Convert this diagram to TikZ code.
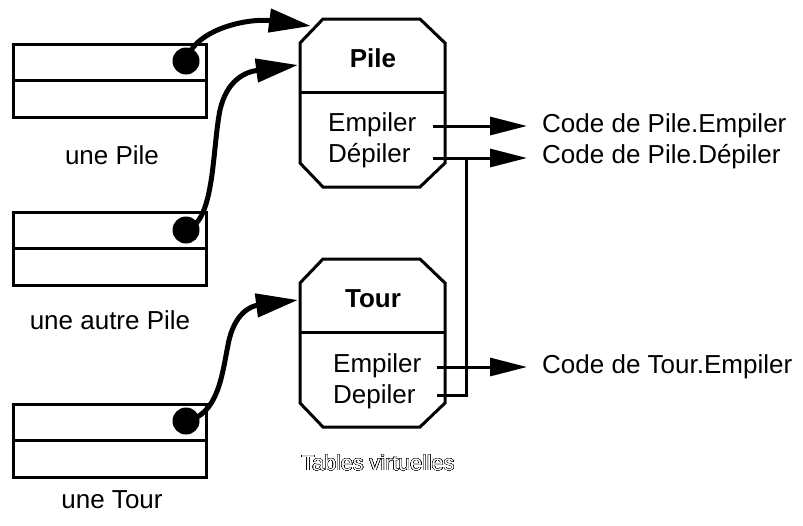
\documentclass[tikz,border=0pt]{standalone}
\usepackage{fontspec}
\setmainfont{Liberation Sans}
\usepackage{contour}
\contourlength{0.4pt}
\contournumber{32}
\usetikzlibrary{arrows.meta}
\begin{document}
\begin{tikzpicture}[x=1pt,y=-1pt,
  txt/.style={font=\fontsize{26}{31}\selectfont, inner sep=0pt},
  btxt/.style={font=\fontsize{26}{31}\selectfont\bfseries, inner sep=0pt},
  objbox/.style={draw, line width=3pt, minimum width=193pt, minimum height=73pt, inner sep=0pt},
  dotn/.style={circle, fill=black, minimum size=27pt, inner sep=0pt},
  curvearrow/.style={line width=5pt, -{Triangle[length=42pt,width=23pt]}},
  wire/.style={line width=3pt},
  wirearrow/.style={line width=3pt, -{Triangle[length=37pt,width=18pt]}},
  oct/.style={line width=3pt, line join=miter}]
\useasboundingbox (0,0) rectangle (803,525);

% object boxes
\node[objbox] (o1) at (109.5,80.5) {};
\draw[line width=3pt] (o1.west) -- (o1.east);
\node[objbox] (o2) at (109.5,248.5) {};
\draw[line width=3pt] (o2.west) -- (o2.east);
\node[objbox] (o3) at (109.5,440.5) {};
\draw[line width=3pt] (o3.west) -- (o3.east);

\node[txt] (l1) at (112,155) {une Pile};
\node[txt] (l2) at (110,320) {une autre Pile};
\node[txt] (l3) at (112,500) {une Tour};

% Pile octagon
\draw[oct] (323,19) -- (420,19) -- (445,43) -- (445,163) -- (420,187) -- (323,187) -- (300,163) -- (300,43) -- cycle;
\draw[oct] (300,92) -- (445,92);
\node[btxt, anchor=base] (pt) at (373,67) {Pile};
\node[txt, anchor=base west] (pe) at (328,131) {Empiler};
\node[txt, anchor=base west] (pd) at (328,162) {Dépiler};

% Tour octagon
\draw[oct] (323,259) -- (420,259) -- (445,283) -- (445,403) -- (420,427) -- (323,427) -- (300,403) -- (300,283) -- cycle;
\draw[oct] (300,332) -- (445,332);
\node[btxt, anchor=base] (tt) at (373,307) {Tour};
\node[txt, anchor=base west] (te) at (333,372) {Empiler};
\node[txt, anchor=base west] (td) at (333,403) {Depiler};

\node[font=\fontsize{21.5}{25}\selectfont, inner sep=0pt] (tv) at (378,463) {\contour{black}{\textcolor{white}{Tables virtuelles}}};

% code targets
\node[txt, anchor=base west] (cpe) at (542,132) {Code de Pile.Empiler};
\node[txt, anchor=base west] (cpd) at (542,163) {Code de Pile.Dépiler};
\node[txt, anchor=base west] (cte) at (542,373) {Code de Tour.Empiler};

% wires
\coordinate (pes) at (433,126);
\coordinate (pee) at (527,126);
\coordinate (pds) at (433,158);
\coordinate (pde) at (527,158);
\coordinate (pdj) at (466,158);
\coordinate (tes) at (437,367);
\coordinate (tee) at (527,367);
\coordinate (tds) at (437,395);
\coordinate (tdj) at (466,395);
\draw[wirearrow] (pes) -- (pee);
\draw[wirearrow] (pds) -- (pde);
\draw[wirearrow] (tes) -- (tee);
\draw[wire, line join=miter] (tds) -- (tdj) -- (pdj);

% pointers
\node[dotn] (d1) at (186,61) {};
\node[dotn] (d2) at (186,230) {};
\node[dotn] (d3) at (186,421) {};
\coordinate (a1) at (311,26);
\coordinate (a2) at (298,65);
\coordinate (a3) at (298,300);
\draw[curvearrow] (d1.center) .. controls (195,28) and (250,18) .. (a1);
\draw[curvearrow] (d2.center) .. controls (215,222) and (212,150) .. (220,110) .. controls (227,80) and (245,72) .. (a2);
\draw[curvearrow] (d3.center) .. controls (218,415) and (222,375) .. (228,345) .. controls (234,312) and (252,306) .. (a3);
\end{tikzpicture}
\end{document}
